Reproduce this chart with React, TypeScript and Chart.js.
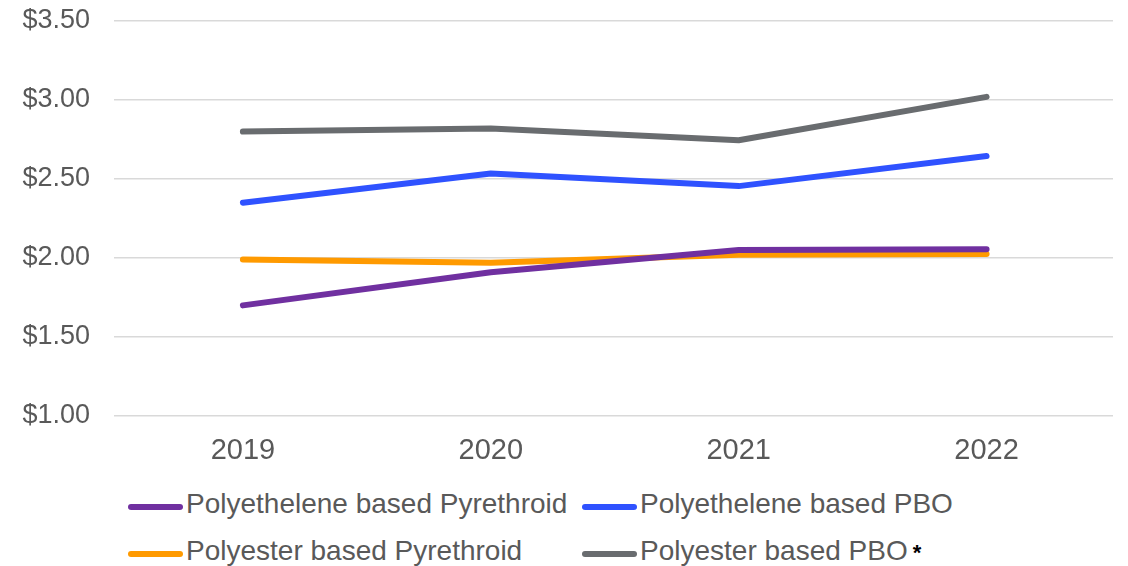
import React, { useEffect, useRef } from "react";
import { Chart, registerables } from "chart.js";

Chart.register(...registerables);

const years = ["2019", "2020", "2021", "2022"];
const polyethylenePyrethroid = [1.7, 1.91, 2.05, 2.055];
const polyethylenePBO = [2.35, 2.535, 2.455, 2.645];
const polyesterPyrethroid = [1.99, 1.97, 2.02, 2.025];
const polyesterPBO = [2.8, 2.82, 2.745, 3.02];
const yTicks = [1, 1.5, 2, 2.5, 3, 3.5];

const seriesNames = [
  "Polyethelene based Pyrethroid",
  "Polyethelene based PBO",
  "Polyester based Pyrethroid",
  "Polyester based PBO",
];
const seriesColors = ["#7030A0", "#2F52FF", "#FF9A00", "#696C6F"];
const seriesValues = [polyethylenePyrethroid, polyethylenePBO, polyesterPyrethroid, polyesterPBO];

const FONT = "'Liberation Sans', Arial, Helvetica, sans-serif";
const TEXT = "#595959";

export default function App() {
  const ref = useRef<HTMLCanvasElement | null>(null);

  useEffect(() => {
    if (!ref.current) return;
    const chart = new Chart(ref.current, {
      type: "line",
      data: {
        datasets: seriesNames.map((name, k) => ({
          label: name,
          data: seriesValues[k].map((v, i) => ({ x: i, y: v })),
          borderColor: seriesColors[k],
          backgroundColor: seriesColors[k],
          borderWidth: 6,
          pointRadius: 0,
          tension: 0,
          borderCapStyle: "round" as const,
          borderJoinStyle: "round" as const,
        })),
      },
      options: {
        animation: false,
        responsive: true,
        maintainAspectRatio: false,
        layout: { padding: { top: 13, right: 7, bottom: 12, left: 0 } },
        plugins: {
          legend: { display: false },
          tooltip: { enabled: false },
        },
        scales: {
          x: {
            type: "linear",
            min: -0.52,
            max: 3.51,
            afterBuildTicks: (s: any) => {
              s.ticks = years.map((_, i) => ({ value: i }));
            },
            afterFit: (s: any) => {
              s.height = 50;
            },
            ticks: {
              callback: (v: any) => years[v as number] ?? "",
              color: TEXT,
              font: { family: FONT, size: 29 },
              padding: 18,
              maxRotation: 0,
              autoSkip: false,
            },
            grid: { display: false, drawTicks: false },
            border: { display: false },
          },
          y: {
            min: 1,
            max: 3.5,
            afterBuildTicks: (s: any) => {
              s.ticks = yTicks.map((v) => ({ value: v }));
            },
            afterFit: (s: any) => {
              s.width = 106;
              s.paddingTop = 0;
              s.paddingBottom = 0;
            },
            ticks: {
              callback: (v: any) => "$" + Number(v).toFixed(2),
              color: TEXT,
              font: { family: FONT, size: 27 },
              padding: 24,
            },
            grid: { color: "#D9D9D9", lineWidth: 1.5, drawTicks: false },
            border: { display: false },
          },
        },
      },
    });
    return () => chart.destroy();
  }, []);

  const legendPos = [
    { left: 120, top: 496 },
    { left: 574, top: 496 },
    { left: 120, top: 543 },
    { left: 574, top: 543 },
  ];

  return (
    <div style={{ position: "relative", width: 1112, height: 558 }}>
      <div style={{ position: "absolute", left: 0, top: 0, width: 1112, height: 470 }}>
        <canvas ref={ref} />
      </div>
      {seriesNames.map((name, k) => (
        <div
          key={name}
          style={{
            position: "absolute",
            left: legendPos[k].left,
            top: legendPos[k].top - 20,
            height: 40,
            display: "flex",
            alignItems: "center",
            whiteSpace: "nowrap",
            fontFamily: FONT,
            fontSize: 28,
            lineHeight: "28px",
            color: TEXT,
          }}
        >
          <span
            style={{
              display: "inline-block",
              width: 55,
              height: 6,
              borderRadius: 3,
              background: seriesColors[k],
              position: "relative",
              top: 3,
              marginRight: 3,
            }}
          />
          <span>{name}</span>
          {k === 3 && (
            <span
              style={{
                color: "#000",
                fontWeight: "bold",
                fontSize: 22,
                marginLeft: 5,
                alignSelf: "flex-start",
                marginTop: 8,
              }}
            >
              *
            </span>
          )}
        </div>
      ))}
    </div>
  );
}
